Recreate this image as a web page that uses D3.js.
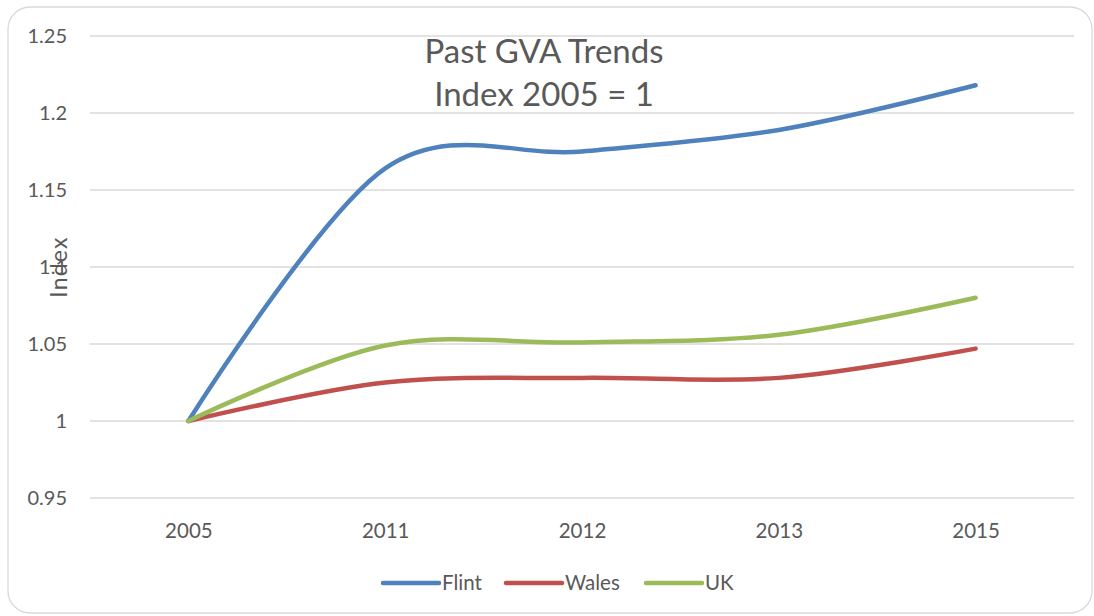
<!DOCTYPE html>
<html>
<head>
<meta charset="utf-8">
<script src="https://cdn.jsdelivr.net/npm/d3@7"></script>
<style>
  body { margin: 0; background: #fff; }
  svg { display: block; font-family: Lato, "Open Sans", sans-serif; }
</style>
</head>
<body>
<svg id="chart" width="1094" height="616"></svg>
<script>
// chart values
const years = ["2005", "2011", "2012", "2013", "2015"];
const flint = [1, 1.164, 1.175, 1.189, 1.218];
const wales = [1, 1.025, 1.028, 1.028, 1.047];
const uk = [1, 1.049, 1.051, 1.056, 1.080];
const yTicks = [0.95, 1, 1.05, 1.1, 1.15, 1.2, 1.25];
const seriesNames = ["Flint", "Wales", "UK"];
const seriesColors = ["#4f81bd", "#c0504d", "#9bbb59"];

const svg = d3.select("#chart");

// outer frame
svg.append("rect")
    .attr("x", 8).attr("y", 7)
    .attr("width", 1084).attr("height", 606)
    .attr("rx", 22)
    .attr("fill", "#fff")
    .attr("stroke", "#d9d9d9")
    .attr("stroke-width", 1.3);

let x = d3.scalePoint().domain(years).range([90, 1074]).padding(0.5);
let y = d3.scaleLinear().domain([0.95, 1.25]).range([498, 36]);

// gridlines
svg.append("g").selectAll("line")
    .data(yTicks).join("line")
    .attr("x1", 90).attr("x2", 1074)
    .attr("y1", d => y(d)).attr("y2", d => y(d))
    .attr("stroke", "#d9d9d9")
    .attr("stroke-width", 1.3);

// y tick labels
let yAxis = d3.axisLeft(y).tickValues(yTicks).tickSize(0).tickPadding(0)
    .tickFormat(d => d3.format("")(+d.toFixed(2)));
let gy = svg.append("g").attr("transform", "translate(67,0)").call(yAxis);
gy.select(".domain").remove();
gy.selectAll("text")
    .attr("font-family", "Lato, sans-serif")
    .attr("font-size", 20)
    .attr("fill", "#595959");

// x tick labels
let xAxis = d3.axisBottom(x).tickSize(0).tickPadding(0);
let gx = svg.append("g").attr("transform", "translate(0,523)").call(xAxis);
gx.select(".domain").remove();
gx.selectAll("text")
    .attr("font-family", "Lato, sans-serif")
    .attr("font-size", 20.5)
    .attr("fill", "#595959");

// lines
let line = d3.line()
    .x((d, i) => x(years[i]))
    .y(d => y(d))
    .curve(d3.curveCatmullRom.alpha(0));

let allSeries = [flint, wales, uk];
svg.append("g").selectAll("path")
    .data(allSeries).join("path")
    .attr("d", d => line(d))
    .attr("fill", "none")
    .attr("stroke", (d, i) => seriesColors[i])
    .attr("stroke-width", 4.5)
    .attr("stroke-linecap", "round")
    .attr("stroke-linejoin", "round");

// title
let title = svg.append("text")
    .attr("text-anchor", "middle")
    .attr("fill", "#595959")
    .attr("font-size", 33);
title.append("tspan").attr("x", 544).attr("y", 63).text("Past GVA Trends");
title.append("tspan").attr("x", 544).attr("y", 106).text("Index 2005 = 1");

// axis title
svg.append("text")
    .attr("transform", "translate(67,267) rotate(-90)")
    .attr("text-anchor", "middle")
    .attr("fill", "#595959")
    .attr("font-size", 23)
    .attr("letter-spacing", 1.2)
    .text("Index");

// legend
let legendX = [383, 506, 646];
let legend = svg.append("g").selectAll("g")
    .data(seriesNames).join("g")
    .attr("transform", (d, i) => `translate(${legendX[i]},583)`);
legend.append("line")
    .attr("x1", 0).attr("x2", 56)
    .attr("stroke", (d, i) => seriesColors[i])
    .attr("stroke-width", 4.5)
    .attr("stroke-linecap", "round");
legend.append("text")
    .attr("x", 59).attr("dy", "0.35em")
    .attr("fill", "#595959")
    .attr("font-size", 20.5)
    .text(d => d);
</script>
</body>
</html>
